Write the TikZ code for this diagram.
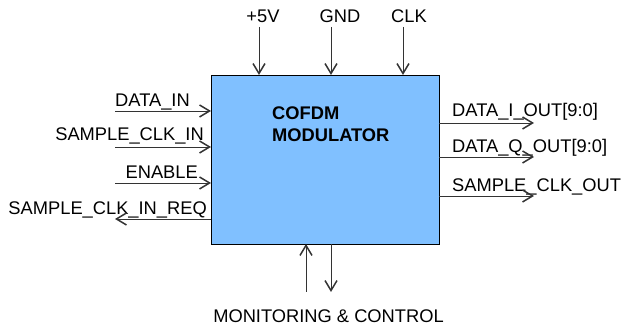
\documentclass[tikz,border=0pt]{standalone}
\usepackage{fontspec}
\setmainfont{Liberation Sans}
\usetikzlibrary{arrows.meta}
\definecolor{modblue}{RGB}{128,192,255}
\tikzset{
  sig/.style={draw=black!80, line width=0.9pt, -{Straight Barb[length=10pt,width=12pt,line width=1.5pt]}},
  lbl/.style={inner sep=0pt, font=\fontsize{18.3}{22}\selectfont},
}
\begin{document}
\begin{tikzpicture}[x=1pt,y=-1pt]
        \useasboundingbox (0,0) rectangle (625,328);
        % Block
        \node (mod) at (325,159.5) [draw, fill=modblue, line width=0.9pt, outer sep=0pt, minimum width=228pt, minimum height=169pt] {};
        \node (name) at (272,142) [lbl, font=\fontsize{18.3}{22}\selectfont\bfseries, align=left, anchor=base west] {COFDM\\MODULATOR};
        % Signal ends (top, left, right, bottom)
        \coordinate (vcc) at (259,27);
        \coordinate (gnd) at (331,27);
        \coordinate (clk) at (403,27);
        \coordinate (din) at (115,111);
        \coordinate (sin) at (115,147);
        \coordinate (en) at (115,183);
        \coordinate (req) at (115,219);
        \coordinate (iout) at (534,123);
        \coordinate (qout) at (534,157);
        \coordinate (sout) at (534,196);
        \coordinate (mcin) at (306,292);
        \coordinate (mcout) at (331,292);
        % Labels
        \node (vccl) at (263,23) [lbl, anchor=base] {+5V};
        \node (gndl) at (340,23) [lbl, anchor=base] {GND};
        \node (clkl) at (409,23) [lbl, anchor=base] {CLK};
        \node (dinl) at (115,107) [lbl, anchor=base west] {DATA\_IN};
        \node (sinl) at (204,141) [lbl, anchor=base east] {SAMPLE\_CLK\_IN};
        \node (enl) at (198,179) [lbl, anchor=base east] {ENABLE};
        \node (reql) at (207,215) [lbl, anchor=base east] {SAMPLE\_CLK\_IN\_REQ};
        \node (ioutl) at (452,117) [lbl, anchor=base west] {DATA\_I\_OUT[9:0]};
        \node (qoutl) at (452,153) [lbl, anchor=base west] {DATA\_Q\_OUT[9:0]};
        \node (soutl) at (452,192) [lbl, anchor=base west] {SAMPLE\_CLK\_OUT};
        \node (mcl) at (328.5,323) [lbl, anchor=base] {MONITORING \& CONTROL};
        % Edges
        \draw[sig] (vcc) -- (vcc |- mod.north);
        \draw[sig] (gnd) -- (gnd |- mod.north);
        \draw[sig] (clk) -- (clk |- mod.north);
        \draw[sig] (din) -- (din -| mod.west);
        \draw[sig] (sin) -- (sin -| mod.west);
        \draw[sig] (en) -- (en -| mod.west);
        \draw[sig] (req -| mod.west) -- (req);
        \draw[sig] (iout -| mod.east) -- (iout);
        \draw[sig] (qout -| mod.east) -- (qout);
        \draw[sig] (sout -| mod.east) -- (sout);
        \draw[sig] (mcin) -- (mcin |- mod.south);
        \draw[sig] (mcout |- mod.south) -- (mcout);
      \end{tikzpicture}
\end{document}
